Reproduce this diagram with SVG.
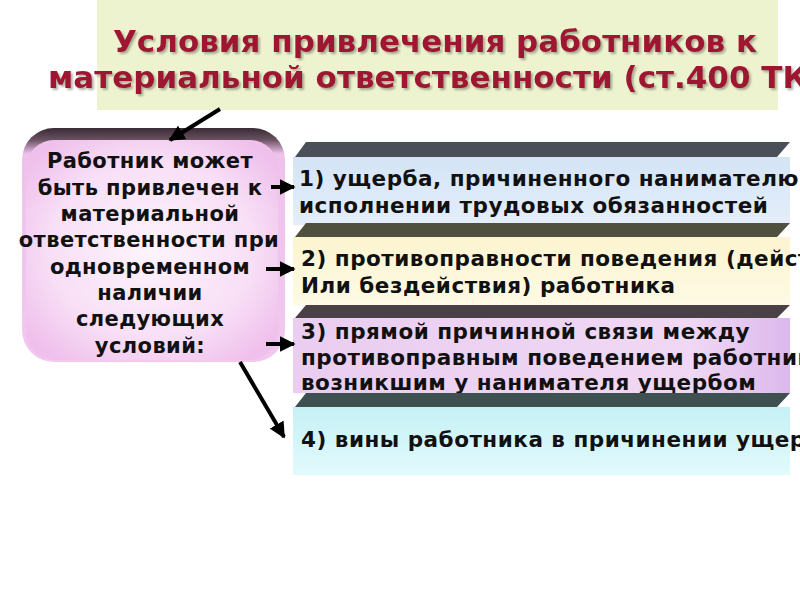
<svg xmlns="http://www.w3.org/2000/svg" width="800" height="600" viewBox="0 0 800 600">
<defs>
<style>
.title{font-family:"DejaVu Sans","Liberation Sans",sans-serif;font-weight:bold;font-size:31px;fill:#9e1630}
.lt{font-family:"DejaVu Sans","Liberation Sans",sans-serif;font-weight:bold;font-size:21px;letter-spacing:0.4px;fill:#111;text-anchor:middle}
.bt{font-family:"DejaVu Sans","Liberation Sans",sans-serif;font-weight:bold;font-size:21.5px;letter-spacing:0.5px;fill:#111}
.arr{stroke:#000;stroke-width:4;fill:none}
</style>
<filter id="shadow" x="-5%" y="-20%" width="110%" height="140%">
<feDropShadow dx="2" dy="2" stdDeviation="1" flood-color="#6e6e60" flood-opacity="0.55"/>
</filter>
<linearGradient id="leftTop" x1="0" y1="0" x2="0" y2="1">
<stop offset="0" stop-color="#3a2c36"/>
<stop offset="0.05" stop-color="#6a5060"/>
<stop offset="0.11" stop-color="#efc2ec"/>
<stop offset="1" stop-color="#f2c8ee"/>
</linearGradient>
<radialGradient id="leftBody" cx="0.5" cy="0.5" r="0.62">
<stop offset="0" stop-color="#fdf4fc"/>
<stop offset="0.65" stop-color="#f8dff6"/>
<stop offset="1" stop-color="#efc0ec"/>
</radialGradient>
<linearGradient id="g1" x1="0" y1="0" x2="0" y2="1"><stop offset="0" stop-color="#d4e4f6"/><stop offset="1" stop-color="#e4eefa"/></linearGradient>
<linearGradient id="g2" x1="0" y1="0" x2="0" y2="1"><stop offset="0" stop-color="#fcf4d0"/><stop offset="1" stop-color="#fefae4"/></linearGradient>
<linearGradient id="g3" x1="0" y1="0" x2="1" y2="0"><stop offset="0" stop-color="#eacdf0"/><stop offset="0.8" stop-color="#f0d8f4"/><stop offset="1" stop-color="#dcb8ec"/></linearGradient>
<linearGradient id="g4" x1="0" y1="0" x2="0" y2="1"><stop offset="0" stop-color="#c6f1f6"/><stop offset="1" stop-color="#e2fafc"/></linearGradient>
<marker id="ah" viewBox="0 0 10 10" refX="9" refY="5" markerWidth="4" markerHeight="4" orient="auto" markerUnits="strokeWidth">
<path d="M0,0 L10,5 L0,10 z" fill="#000"/>
</marker>
</defs>
<rect width="800" height="600" fill="#ffffff"/>

<g id="title">
<rect x="97" y="0" width="681" height="110" fill="#eef3cf"/>
<g filter="url(#shadow)">
<text class="title" x="435" y="52" text-anchor="middle">Условия привлечения работников к</text>
<text class="title" x="48" y="88">материальной ответственности (ст.400 ТК РБ)</text>
</g>
</g>

<g id="left">
<rect x="22" y="128" width="263" height="234" rx="32" fill="url(#leftTop)"/>
<rect x="26" y="140" width="252" height="220" rx="28" fill="url(#leftBody)"/>
<text class="lt" x="150" y="168">Работник может</text>
<text class="lt" x="150" y="195">быть привлечен к</text>
<text class="lt" x="150" y="221">материальной</text>
<text class="lt" x="149" y="247">ответственности при</text>
<text class="lt" x="150" y="274">одновременном</text>
<text class="lt" x="150" y="300">наличии</text>
<text class="lt" x="150" y="326">следующих</text>
<text class="lt" x="150" y="353">условий:</text>
</g>

<g id="box1">
<rect x="293" y="157" width="497" height="68" fill="url(#g1)"/>
<polygon points="295,157 306,142 790,142 777,157" fill="#4a4f58"/>
<text class="bt" x="299" y="186">1) ущерба, причиненного нанимателю при</text>
<text class="bt" x="299" y="213">исполнении трудовых обязанностей</text>
</g>

<g id="box2">
<rect x="293" y="237" width="497" height="68" fill="url(#g2)"/>
<polygon points="295,237 306,223 790,223 777,237" fill="#50503f"/>
<text class="bt" x="301" y="266">2) противоправности поведения (действия</text>
<text class="bt" x="301" y="293">Или бездействия) работника</text>
</g>

<g id="box3">
<rect x="293" y="318" width="497" height="75" fill="url(#g3)"/>
<polygon points="295,318 306,305 790,305 777,318" fill="#4a4048"/>
<text class="bt" x="301" y="339">3) прямой причинной связи между</text>
<text class="bt" x="301" y="365">противоправным поведением работника и</text>
<text class="bt" x="301" y="390">возникшим у нанимателя ущербом</text>
</g>

<g id="box4">
<rect x="293" y="407" width="497" height="68" fill="url(#g4)"/>
<polygon points="295,407 306,393 790,393 777,407" fill="#3f5050"/>
<text class="bt" x="301" y="447">4) вины работника в причинении ущерба</text>
</g>

<g id="connectors">
<line class="arr" x1="220" y1="109" x2="170" y2="140" marker-end="url(#ah)"/>
<line class="arr" x1="271" y1="187" x2="294" y2="187" marker-end="url(#ah)"/>
<line class="arr" x1="266" y1="269" x2="294" y2="269" marker-end="url(#ah)"/>
<line class="arr" x1="266" y1="344" x2="294" y2="344" marker-end="url(#ah)"/>
<line class="arr" x1="240" y1="362" x2="284" y2="437" marker-end="url(#ah)"/>
</g>
</svg>
